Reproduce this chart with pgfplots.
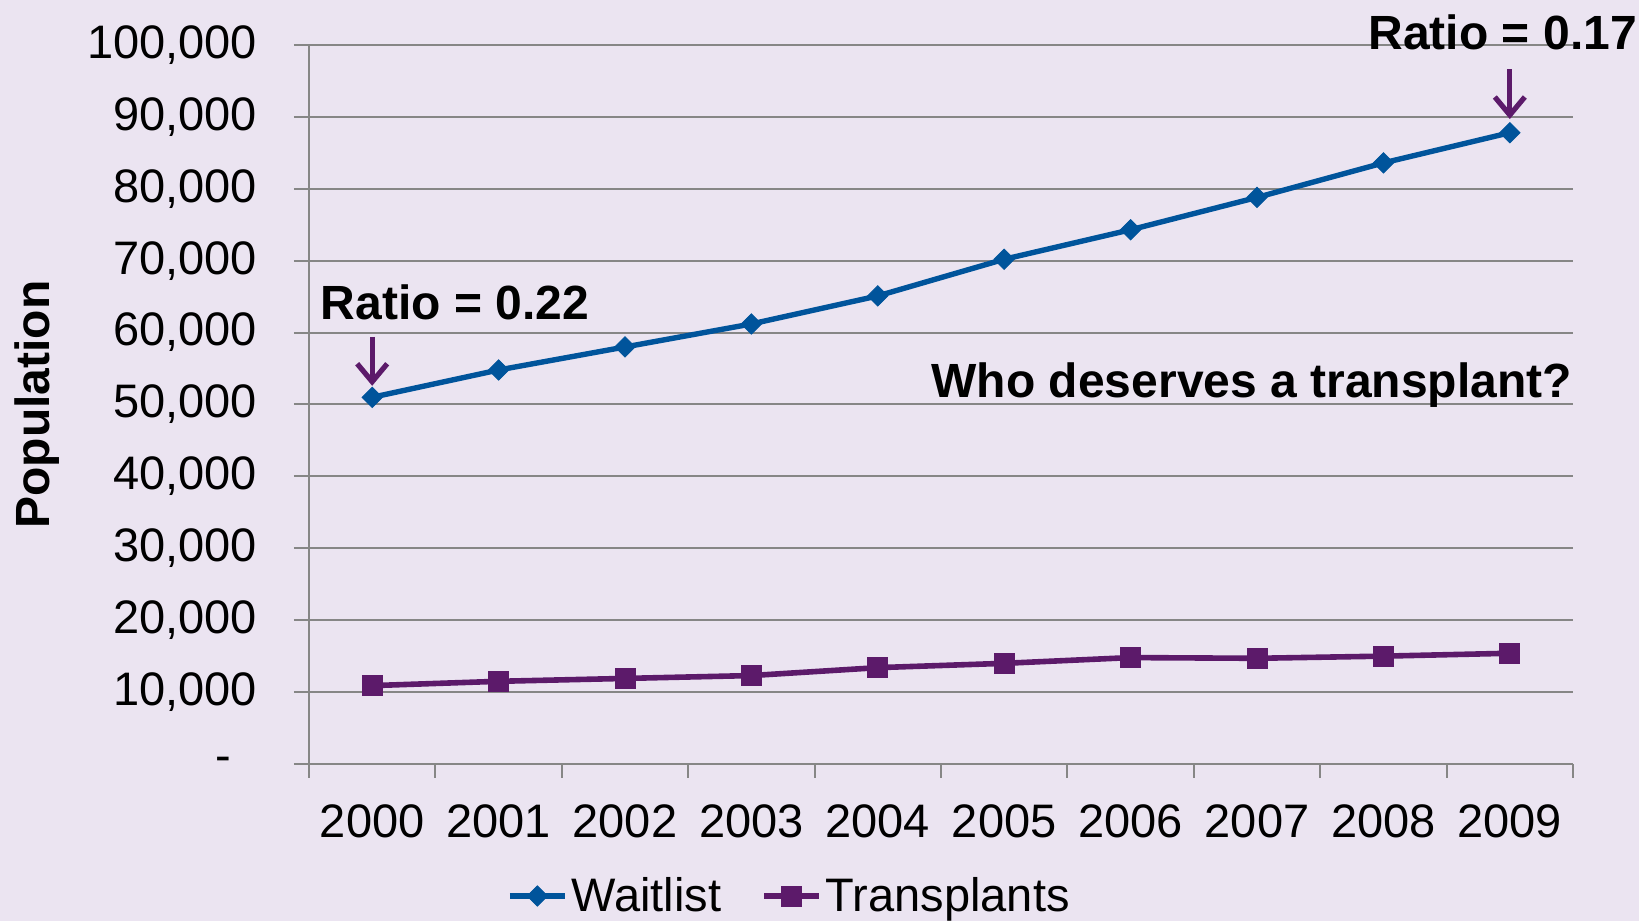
\documentclass[border=0pt]{standalone}
\usepackage{fontspec}
\setmainfont{Liberation Sans}
\usepackage{pgfplots}
\usepackage{pgfplotstable}
\pgfplotsset{compat=1.18}
\usetikzlibrary{arrows.meta}

\definecolor{bgcol}{RGB}{235,228,241}
\definecolor{wlblue}{RGB}{0,84,155}
\definecolor{txpurple}{RGB}{92,26,106}
\definecolor{gridgray}{RGB}{134,134,134}

% year index, waitlist size, transplants performed
\pgfplotstableread{
x wait  trans
0 51000 10900
1 54800 11500
2 58000 11900
3 61200 12300
4 65100 13400
5 70200 14000
6 74300 14800
7 78800 14700
8 83600 15000
9 87800 15400
}\datatable

\newcommand{\lblfont}{\fontsize{23.5pt}{28pt}\selectfont}
\newcommand{\boldfont}{\fontsize{24pt}{28pt}\selectfont\bfseries}

\begin{document}
\begin{tikzpicture}
\fill[bgcol] (0,0) rectangle (819.5pt,460.5pt);
\useasboundingbox (0,0) rectangle (819.5pt,460.5pt);
\begin{axis}[
  at={(154.5pt,78.5pt)}, anchor=south west,
  scale only axis, width=632pt, height=359.5pt,
  xmin=-0.5, xmax=9.5, ymin=0, ymax=100000,
  clip=false,
  axis x line*=bottom, axis y line*=left,
  axis line style={draw=gridgray, line width=1pt},
  tick align=outside,
  tick style={gridgray, line width=1pt},
  major tick length=7.5pt, minor tick length=7pt,
  xtick={0,...,9},
  xticklabels={2000,2001,2002,2003,2004,2005,2006,2007,2008,2009},
  major x tick style={draw=none},
  minor xtick={-0.5,0.5,...,9.5},
  scaled y ticks=false,
  ytick={0,10000,...,100000},
  yticklabels={{-\hphantom{0}},{10,000},{20,000},{30,000},{40,000},{50,000},{60,000},{70,000},{80,000},{90,000},{100,000}},
  ymajorgrids,
  major grid style={gridgray, line width=1pt},
  ticklabel style={font=\lblfont},
  yticklabel style={xshift=-15pt},
  xticklabel style={yshift=-9.5pt},
  /pgf/number format/assume math mode=true,
  legend style={at={(0.1565,-0.1836)}, anchor=west, draw=none, fill=none,
    legend columns=2, inner sep=0pt, font=\lblfont,
    /tikz/every even column/.append style={column sep=18pt}},
  legend image code/.code={\draw[mark repeat=2,mark phase=2] plot coordinates {(0pt,0pt)(13.75pt,0pt)(27.5pt,0pt)};},
]
\addplot[wlblue, line width=2.7pt, mark=square*, mark size=3.6pt,
  mark options={line width=0.4pt, rotate=45}] table[x=x, y=wait]{\datatable};
\addlegendentry{Waitlist}
\addplot[txpurple, line width=2.8pt, mark=square*, mark size=5pt,
  mark options={line width=0.4pt}] table[x=x, y=trans]{\datatable};
\addlegendentry{Transplants}

\node[rotate=90, font=\boldfont] at (rel axis cs:-0.2155,0.5) {Population};
\node[anchor=west, font=\boldfont, inner sep=0pt] at (axis cs:-0.41,64250) {Ratio = 0.22};
\node[anchor=west, font=\boldfont, inner sep=0pt] at (axis cs:7.88,101810) {Ratio = 0.17};
\node[anchor=base east, font=\boldfont, inner sep=0pt] at (axis cs:9.494,51040) {Who deserves a transplant?};
\draw[txpurple, line width=2.6pt, -{Straight Barb[length=9pt, width=15pt]}] (axis cs:0,59400) -- (axis cs:0,52600);
\draw[txpurple, line width=2.6pt, -{Straight Barb[length=9pt, width=15pt]}] (axis cs:9,96660) -- (axis cs:9,89700);
\end{axis}
\end{tikzpicture}
\end{document}
